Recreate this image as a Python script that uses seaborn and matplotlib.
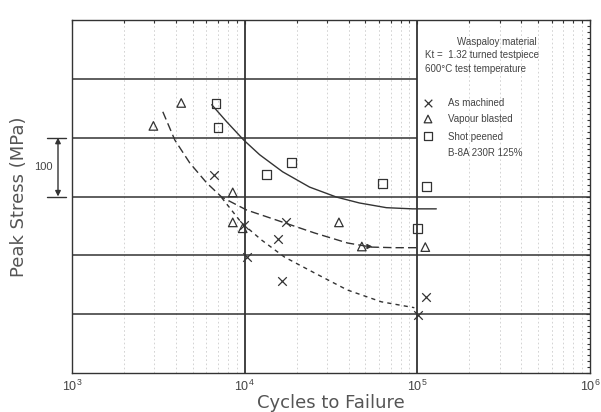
import numpy as np
import pandas as pd
import matplotlib
matplotlib.use("Agg")
import matplotlib.pyplot as plt
from matplotlib.ticker import LogLocator, MultipleLocator, NullFormatter, LogFormatterSciNotation
import seaborn as sns

# ---- test results (cycles to failure, peak stress in MPa) ----
as_machined_cycles = [6635, 9870, 17430, 15680, 10270, 16530, 112700, 101400]
as_machined_stress = [737, 651, 656, 627, 597, 556, 529, 498]

vapour_cycles = [2960, 4290, 8530, 8530, 9740, 35150, 47700, 111200]
vapour_stress = [820, 859, 707, 656, 646, 656, 615, 614]

peened_cycles = [6810, 6990, 13370, 18620, 62900, 112700, 100000]
peened_stress = [858, 817, 737, 758, 722, 717, 646]

# ---- fitted trend curves ----
peened_fit_cycles = [6445, 7870, 9870, 12210, 16590, 23760, 34030, 46200, 66200, 93560, 128800]
peened_fit_stress = [856, 827, 796, 771, 742, 716, 699, 689, 681, 679, 679]

vapour_fit_cycles = [3357, 3940, 4810, 6030, 7360, 10270, 16360, 25400, 39400, 54200, 73600, 100000]
vapour_fit_stress = [844, 796, 757, 723, 699, 677, 657, 638, 621, 614, 613, 613]

machined_fit_cycles = [7360, 9610, 12530, 17020, 25400, 39400, 61900, 96100]
machined_fit_stress = [698, 655, 626, 597, 570, 541, 521, 511]

series_names = ["As machined", "Vapour blasted", "Shot peened"]
x_ticks = [1e3, 1e4, 1e5, 1e6]

INK = "#333333"
TXT = "#444444"

sns.set_style("white")
plt.rcParams["font.family"] = ["Liberation Sans", "DejaVu Sans"]

W, H = 601, 412
fig = plt.figure(figsize=(W / 100, H / 100), dpi=100)
ax = fig.add_axes([72 / W, 1 - 373 / H, (590 - 72) / W, (373 - 20) / H])
ax.set_xscale("log")
ax.set_xlim(1e3, 1e6)
ax.set_ylim(400, 1000)

# faint minor grid in each decade
for dec in [1e3, 1e4, 1e5]:
    for m in range(2, 10):
        ax.axvline(dec * m, color="#cccccc", lw=0.6, ls=(0, (2, 3)), zorder=0)

# heavy reference grid
ax.axvline(1e4, color=INK, lw=1.3, zorder=1)
ax.axvline(1e5, color=INK, lw=1.3, zorder=1)
for s in [500, 600, 700]:
    ax.axhline(s, color=INK, lw=1.1, zorder=1)
ax.hlines([800, 900], 1e3, 1e5, color=INK, lw=1.1, zorder=1)

# measured points, one open-marker series per surface finish
groups = [
    (as_machined_cycles, as_machined_stress, "x"),
    (vapour_cycles, vapour_stress, "^"),
    (peened_cycles, peened_stress, "s"),
]
for (gx, gy, mk), name in zip(groups, series_names):
    df = pd.DataFrame({"cycles": gx, "stress": gy, "finish": name})
    if mk == "x":
        sns.scatterplot(data=df, x="cycles", y="stress", marker=mk, s=38,
                        color=INK, linewidth=0.9, legend=False, ax=ax, zorder=4)
    else:
        sns.scatterplot(data=df, x="cycles", y="stress", marker=mk, s=38,
                        facecolor="none", edgecolor=INK, linewidth=0.9,
                        legend=False, ax=ax, zorder=4)

# trend curves
curves = [
    (peened_fit_cycles, peened_fit_stress, "-"),
    (vapour_fit_cycles, vapour_fit_stress, (0, (6, 3))),
    (machined_fit_cycles, machined_fit_stress, (0, (3, 3))),
]
for cx, cy, ls in curves:
    df = pd.DataFrame({"cycles": cx, "stress": cy})
    sns.lineplot(data=df, x="cycles", y="stress", sort=False, estimator=None,
                 color=INK, lw=1.0, linestyle=ls, ax=ax, zorder=3)

# run-out arrow
ax.annotate("", xy=(57000, vapour_stress[6]), xytext=(50000, vapour_stress[6]),
            arrowprops=dict(arrowstyle="-|>", color=INK, lw=1.0, mutation_scale=7))

# axes styling
for sp in ax.spines.values():
    sp.set_color(INK)
    sp.set_linewidth(1.0)
ax.xaxis.set_minor_locator(LogLocator(base=10, subs=np.arange(2, 10), numticks=20))
ax.xaxis.set_minor_formatter(NullFormatter())
ax.set_xticks(x_ticks)
ax.xaxis.set_major_formatter(LogFormatterSciNotation())
ax.yaxis.set_major_locator(MultipleLocator(100))
ax.yaxis.set_minor_locator(MultipleLocator(10))
ax.set_yticklabels([])
ax.tick_params(axis="both", which="both", direction="in", top=True, right=True,
               color=INK, width=0.8)
ax.tick_params(axis="both", which="major", length=3)
ax.tick_params(axis="both", which="minor", length=2)
ax.tick_params(axis="x", which="major", labelsize=9, labelcolor=TXT, pad=4)

ax.set_xlabel("Cycles to Failure", fontsize=13, color="#555555", labelpad=0,
              family=["DejaVu Sans"])
ax.set_ylabel("Peak Stress (MPa)", fontsize=13, color="#555555", labelpad=28,
              family=["DejaVu Sans"])

# 100 MPa scale bar
def fx(px):
    return (px - 72) / (590 - 72)

ax.annotate("", xy=(fx(58), 800), xytext=(fx(58), 700),
            xycoords=("axes fraction", "data"), textcoords=("axes fraction", "data"),
            arrowprops=dict(arrowstyle="<|-|>", color=INK, lw=1.0, mutation_scale=8,
                            shrinkA=0, shrinkB=0), annotation_clip=False)
for s in [700, 800]:
    ax.plot([fx(47), fx(66)], [s, s], color=INK, lw=1.0, clip_on=False,
            transform=ax.get_yaxis_transform())
ax.text(fx(53), 750, "100", ha="right", va="center", fontsize=8, color=TXT,
        transform=ax.get_yaxis_transform(), clip_on=False)

# key box
def ft(px, py, txt, **kw):
    fig.text(px / W, 1 - py / H, txt, fontsize=7, color=TXT, va="center", **kw)

ft(497, 42, "Waspaloy material", ha="center")
ft(425, 55, "Kt =  1.32 turned testpiece", ha="left")
ft(425, 69, "600°C test temperature", ha="left")
ft(448, 103, "As machined", ha="left")
ft(448, 119, "Vapour blasted", ha="left")
ft(448, 137, "Shot peened", ha="left")
ft(448, 153, "B-8A 230R 125%", ha="left")
for py, mk in [(103, "x"), (119, "^"), (136, "s")]:
    if mk == "x":
        ax.scatter([fx(428)], [1 - (py - 20) / 353], marker=mk, s=30, color=INK,
                   linewidth=0.9, transform=ax.transAxes, zorder=5)
    else:
        ax.scatter([fx(428)], [1 - (py - 20) / 353], marker=mk, s=30,
                   facecolor="none", edgecolor=INK, linewidth=0.9,
                   transform=ax.transAxes, zorder=5)

fig.savefig("out.png", dpi=100, facecolor="white")
